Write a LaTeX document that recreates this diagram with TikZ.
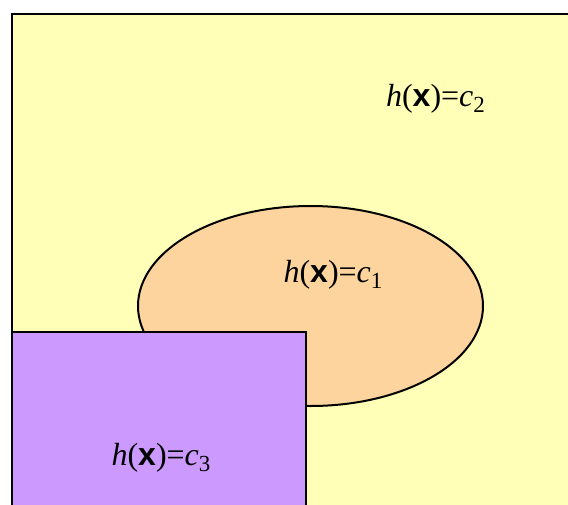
\documentclass[tikz,border=0pt]{standalone}
\usepackage{fontspec}
\setmainfont{Liberation Serif}
\newfontfamily\xsans{Liberation Sans}
\definecolor{bgyellow}{RGB}{255,255,184}
\definecolor{peach}{RGB}{253,212,158}
\definecolor{lilac}{RGB}{204,153,255}
\newcommand{\hx}[1]{\fontsize{32}{35}\selectfont\textit{h}({\xsans\bfseries x})=\textit{c}\raisebox{-0.2em}{\fontsize{23}{25}\selectfont #1}}
\tikzset{
  region/.style={draw=black, line width=2pt},
  lbl/.style={inner sep=0pt, anchor=base}
}
\begin{document}
\begin{tikzpicture}[x=1pt,y=-1pt]
\useasboundingbox (0,0) rectangle (568,504);
\clip (0,0) rectangle (568,504);
\fill[white] (0,0) rectangle (568,504);
\draw[region, fill=bgyellow] (12,14) rectangle (600,540);
\draw[region, fill=peach] (310.5,306) ellipse [x radius=172.5, y radius=100];
\draw[region, fill=lilac] (12,332) rectangle (306,540);
\node[lbl] (c2) at (435.5,106) {\hx{2}};
\node[lbl] (c1) at (333,282) {\hx{1}};
\node[lbl] (c3) at (161,465) {\hx{3}};
\end{tikzpicture}
\end{document}
